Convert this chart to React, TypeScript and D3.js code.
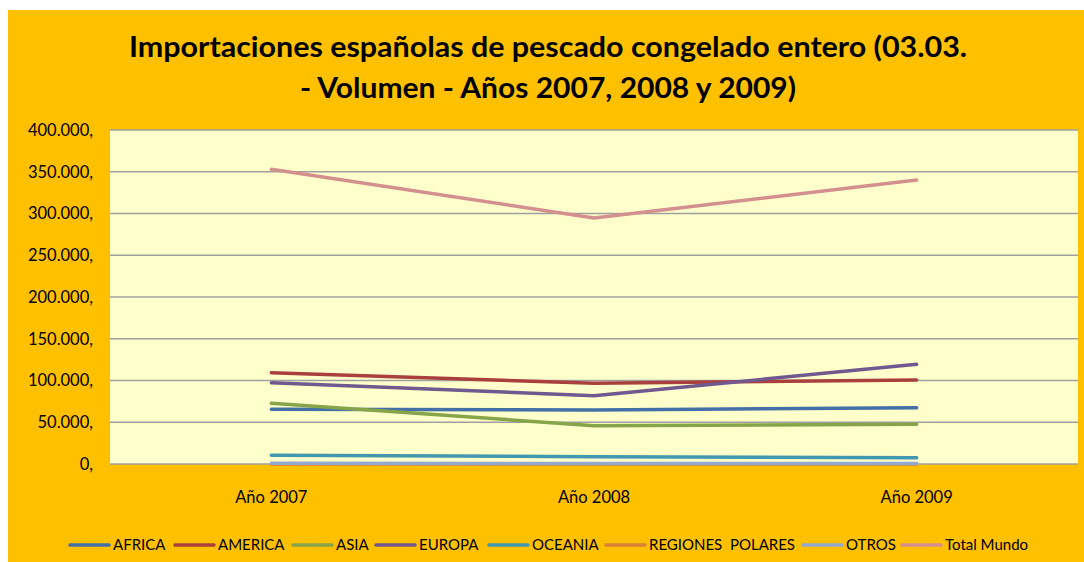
import React from "react";
import * as d3 from "d3";

const years = ["Año 2007", "Año 2008", "Año 2009"];
const seriesNames = ["AFRICA", "AMERICA", "ASIA", "EUROPA", "OCEANIA", "REGIONES  POLARES", "OTROS", "Total Mundo"];
const africa = [65500, 64700, 67400];
const america = [109300, 96600, 100600];
const asia = [72700, 45900, 47500];
const europa = [97400, 81800, 119400];
const oceania = [10400, 8800, 7600];
const regionesPolares = [0, 0, 0];
const otros = [800, 700, 600];
const totalMundo = [353000, 294600, 340000];
const seriesValues = [africa, america, asia, europa, oceania, regionesPolares, otros, totalMundo];
const seriesColors = ["#4470A8", "#A9403E", "#86A44A", "#71588F", "#4298AF", "#DA8137", "#93A9CF", "#D4908E"];
const yTicks = [0, 50000, 100000, 150000, 200000, 250000, 300000, 350000, 400000];
const titleLines = ["Importaciones españolas de pescado congelado entero (03.03.", "- Volumen - Años 2007, 2008 y 2009)"];
const legendX = [70, 175, 293, 376, 489, 606, 803, 902];

const W = 1084;
const H = 562;
const plot = { left: 110, right: 1078, top: 130, bottom: 464 };
const FONT = "Lato, 'Open Sans', sans-serif";

export default function App() {
  const x = d3.scalePoint<string>().domain(years).range([plot.left, plot.right]).padding(0.5);
  const y = d3.scaleLinear().domain([0, 400000]).range([plot.bottom, plot.top]);
  const line = d3
    .line<number>()
    .x((_, i) => x(years[i]) as number)
    .y((d) => y(d));
  const fmt = (v: number) => (v === 0 ? "0," : d3.format(",")(v).replace(/,/g, ".") + ",");

  return (
    <svg width={W} height={H} style={{ position: "absolute", left: 0, top: 0, display: "block" }}>
      <rect x={8} y={10} width={W - 8} height={H - 10} fill="#FFC000" />
      {titleLines.map((t, i) => (
        <text
          key={i}
          x={548}
          y={i === 0 ? 57 : 98}
          textAnchor="middle"
          fontFamily={FONT}
          fontWeight={700}
          fontSize={28}
          textLength={i === 0 ? 838 : 496}
          lengthAdjust="spacingAndGlyphs"
          fill="#000"
        >
          {t}
        </text>
      ))}
      <rect x={plot.left} y={plot.top} width={plot.right - plot.left} height={plot.bottom - plot.top} fill="#FFFFCC" />
      {yTicks.map((t) => (
        <g key={t}>
          <line x1={plot.left} x2={plot.right} y1={y(t)} y2={y(t)} stroke="#A0A0A0" strokeWidth={1.5} />
          <text x={93} y={y(t)} dy="0.35em" textAnchor="end" fontFamily={FONT} fontSize={16.5} fill="#000">
            {fmt(t)}
          </text>
        </g>
      ))}
      {years.map((yr) => (
        <text key={yr} x={x(yr)} y={497} dy="0.35em" textAnchor="middle" fontFamily={FONT} fontSize={16.5} fill="#000">
          {yr}
        </text>
      ))}
      {seriesValues.map((vals, i) => (
        <path
          key={seriesNames[i]}
          d={line(vals) || ""}
          fill="none"
          stroke={seriesColors[i]}
          strokeWidth={3.5}
          strokeLinecap="round"
          strokeLinejoin="round"
        />
      ))}
      {seriesNames.map((n, i) => (
        <g key={n} transform={`translate(${legendX[i]},545)`}>
          <line x1={0} x2={39} y1={0} y2={0} stroke={seriesColors[i]} strokeWidth={3.5} strokeLinecap="round" />
          <text x={43} y={0} dy="0.35em" fontFamily={FONT} fontSize={15} fill="#000" style={{ whiteSpace: "pre" }}>
            {n}
          </text>
        </g>
      ))}
    </svg>
  );
}
